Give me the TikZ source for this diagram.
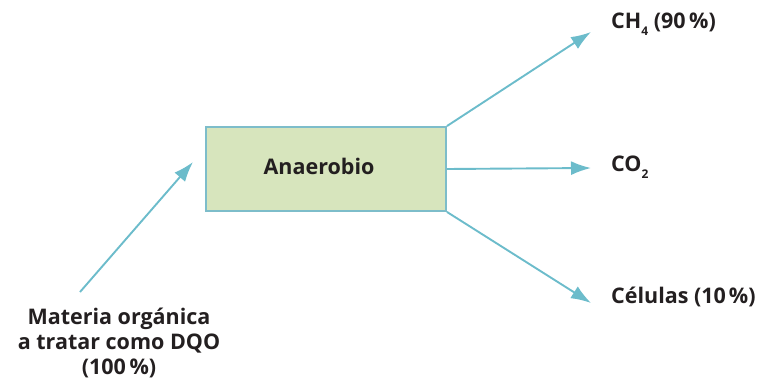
\documentclass[tikz,border=0pt]{standalone}
\usepackage{fontspec}
\setmainfont{Open Sans}
\usetikzlibrary{arrows.meta}
\definecolor{arrowc}{HTML}{6CBCCB}
\definecolor{boxfill}{HTML}{D7E5BD}
\definecolor{boxline}{HTML}{7DBDCA}
\definecolor{txt}{HTML}{231F20}
\newcommand{\lowsub}[1]{\raisebox{-0.6ex}{\fontsize{12}{12}\selectfont #1}}
\tikzset{
  flow/.style={draw=arrowc, line width=1.9pt, -{Latex[length=20pt,width=14pt]}},
  lbl/.style={font=\fontsize{21.5}{25}\selectfont\bfseries, text=txt, inner sep=0pt},
  procbox/.style={draw=boxline, fill=boxfill, line width=1.9pt, minimum width=240pt, minimum height=84pt, inner sep=0pt}
}
\begin{document}
\begin{tikzpicture}[x=1pt,y=-1pt]
\useasboundingbox (0,0) rectangle (768,385);
\node[procbox] (box) at (326,169) {};
\node[lbl] (ana) at (319,166) {Anaerobio};
\node[lbl, anchor=west] (ch4) at (611,24) {CH\lowsub{4}\ (90\,\%)};
\node[lbl, anchor=west] (co2) at (611,167) {CO\lowsub{2}};
\node[lbl, anchor=west] (cel) at (611,297) {Células (10\kern3pt\%)};
\node[lbl, align=center, anchor=north] (mat) at (119,308) {Materia orgánica\\a tratar como DQO\\(100\,\%)};
\coordinate (tch4) at (591,32);
\coordinate (tco2) at (591,168);
\coordinate (tcel) at (591,303);
\coordinate (tin) at (193,162);
\coordinate (sin) at (80,292);
\draw[flow] (sin) -- (tin);
\draw[flow] (box.north east) -- (tch4);
\draw[flow] (box.east) -- (tco2);
\draw[flow] (box.south east) -- (tcel);
\end{tikzpicture}
\end{document}
